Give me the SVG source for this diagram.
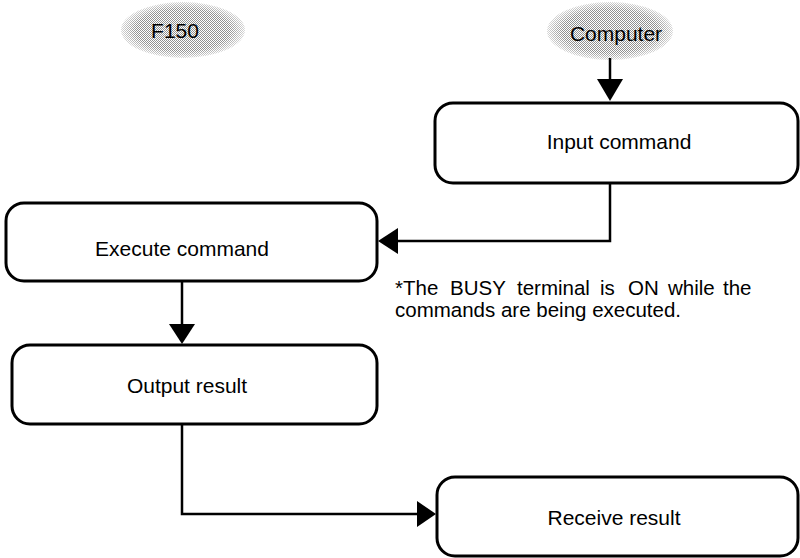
<svg xmlns="http://www.w3.org/2000/svg" width="800" height="558" viewBox="0 0 800 558">
  <style>
    .box { fill: #ffffff; stroke: #000000; stroke-width: 3; }
    .lbl { font-family: "Liberation Sans", Arial, sans-serif; font-size: 21px; fill: #000000; text-anchor: middle; }
    .note { font-family: "Liberation Sans", Arial, sans-serif; font-size: 20.5px; fill: #000000; }
    .wire { fill: none; stroke: #000000; stroke-width: 2.5; }
    .head { fill: #000000; stroke: none; }
    .oval { fill: url(#dots); stroke: none; }
  </style>
  <defs>
    <pattern id="dots" patternUnits="userSpaceOnUse" x="0" y="0" width="2" height="2">
      <rect x="0" y="0" width="2" height="2" fill="#ffffff"/>
      <rect x="0" y="0" width="1" height="1" fill="#909090"/>
      <rect x="1" y="1" width="1" height="1" fill="#909090"/>
    </pattern>
    <radialGradient id="fade" cx="0.5" cy="0.5" r="0.5">
      <stop offset="0.75" stop-color="#ffffff" stop-opacity="1"/>
      <stop offset="1" stop-color="#ffffff" stop-opacity="0.35"/>
    </radialGradient>
    <mask id="fadeMask" maskContentUnits="objectBoundingBox">
      <rect x="0" y="0" width="1" height="1" fill="url(#fade)"/>
    </mask>
  </defs>

  <g id="f150">
    <ellipse class="oval" cx="183" cy="30" rx="62" ry="28" mask="url(#fadeMask)"/>
    <text class="lbl" x="175" y="38">F150</text>
  </g>

  <g id="computer">
    <ellipse class="oval" cx="610" cy="31" rx="63" ry="29" mask="url(#fadeMask)"/>
    <text class="lbl" x="616" y="41">Computer</text>
  </g>

  <g id="connectors">
    <line class="wire" x1="610" y1="58" x2="610" y2="82"/>
    <polygon class="head" points="597,79 623,79 610,101"/>

    <path class="wire" d="M610,183 V241 H395"/>
    <polygon class="head" points="398,228 398,254 378,241"/>

    <line class="wire" x1="182" y1="281" x2="182" y2="327"/>
    <polygon class="head" points="169,324 195,324 182,344"/>

    <path class="wire" d="M182,424 V514 H420"/>
    <polygon class="head" points="417,501 417,527 436,514"/>
  </g>

  <g id="input-command">
    <rect class="box" x="435" y="103" width="363" height="80" rx="18" ry="18"/>
    <text class="lbl" x="619" y="149">Input command</text>
  </g>

  <g id="execute-command">
    <rect class="box" x="6" y="203" width="371" height="78" rx="18" ry="18"/>
    <text class="lbl" x="182" y="256">Execute command</text>
  </g>

  <g id="output-result">
    <rect class="box" x="12" y="345" width="365" height="79" rx="18" ry="18"/>
    <text class="lbl" x="187" y="393">Output result</text>
  </g>

  <g id="receive-result">
    <rect class="box" x="437" y="477" width="361" height="79" rx="18" ry="18"/>
    <text class="lbl" x="614" y="525">Receive result</text>
  </g>

  <g id="note">
    <text class="note" y="295"><tspan x="395">*The</tspan><tspan x="450">BUSY</tspan><tspan x="517">terminal</tspan><tspan x="600">is</tspan><tspan x="628">ON</tspan><tspan x="668">while</tspan><tspan x="723">the</tspan></text>
    <text class="note" x="395" y="317">commands are being executed.</text>
  </g>
</svg>
